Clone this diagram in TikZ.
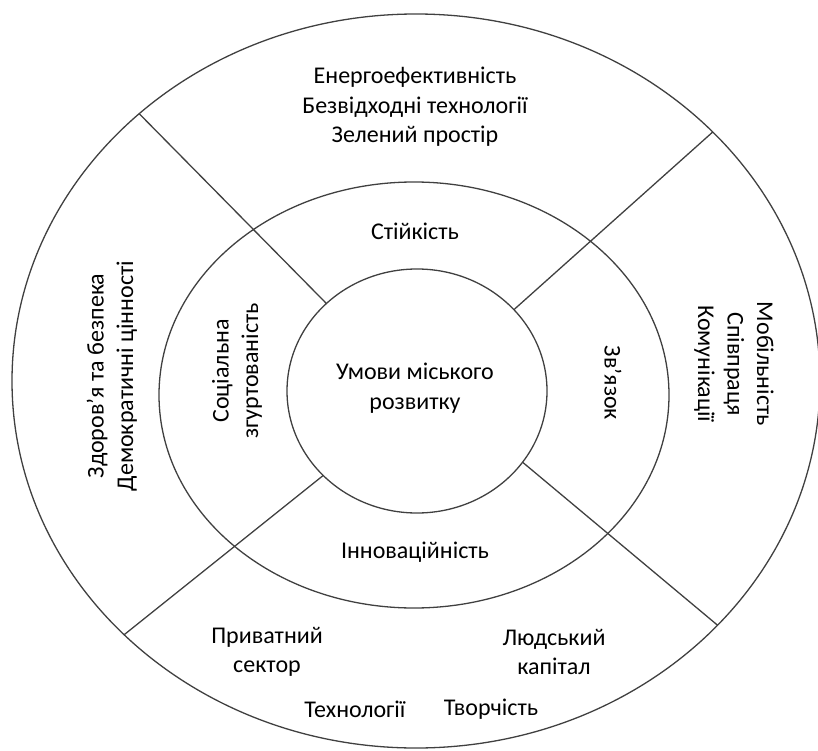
\documentclass[tikz,border=0pt]{standalone}
\usepackage{fontspec}
\setmainfont{Carlito}
\usetikzlibrary{shapes.geometric}

\begin{document}
\begin{tikzpicture}[x=1pt,y=-1pt,
                    ring/.style={ellipse,draw=black!75,line width=1.3pt,inner sep=0pt,outer sep=0pt},
                    divider/.style={draw=black!75,line width=1.3pt},
                    ringtext/.style={align=center,inner sep=0pt,font=\fontsize{24}{29.5}\selectfont}
                   ]
  \useasboundingbox (0,0) rectangle (818,751);

  \node[ring,minimum width=808pt,minimum height=734pt] (outer) at (416,381) {};
  \node[ring,minimum width=510pt,minimum height=426pt] (middle) at (414,395) {};
  \node[ring,minimum width=260pt,minimum height=244pt] (inner) at (417,391) {};

  % the four cuts run from the inner ring out
  \path[divider]
    (inner.136) -- (outer.136)
    (inner.40)  -- (outer.40)
    (inner.222) -- (outer.221)
    (inner.326) -- (outer.321);

  \node[ringtext] (green) at (415,107) {Енергоефективність\\Безвідходні технології\\Зелений простір};
  \node[ringtext] (stab) at (415,231) {Стійкість};
  \node[ringtext] (core) at (415,388) {Умови міського\\розвитку};
  \node[ringtext,rotate=90] (social) at (237,371) {Соціальна\\згуртованість};
  \node[ringtext,rotate=90] (health) at (112,376) {Здоров'я та безпека\\Демократичні цінності};
  \node[ringtext,rotate=-90] (link) at (613,383) {Зв’язок};
  \node[ringtext,rotate=-90] (mobil) at (734,364) {Мобільність\\Співпраця\\Комунікації};
  \node[ringtext] (innov) at (415,552) {Інноваційність};
  \node[ringtext] (private) at (267,652) {Приватний\\сектор};
  \node[ringtext] (human) at (554,652) {Людський\\капітал};
  \node[ringtext] (tech) at (355,709) {Технології};
  \node[ringtext] (creat) at (491,709) {Творчість};
\end{tikzpicture}
\end{document}
